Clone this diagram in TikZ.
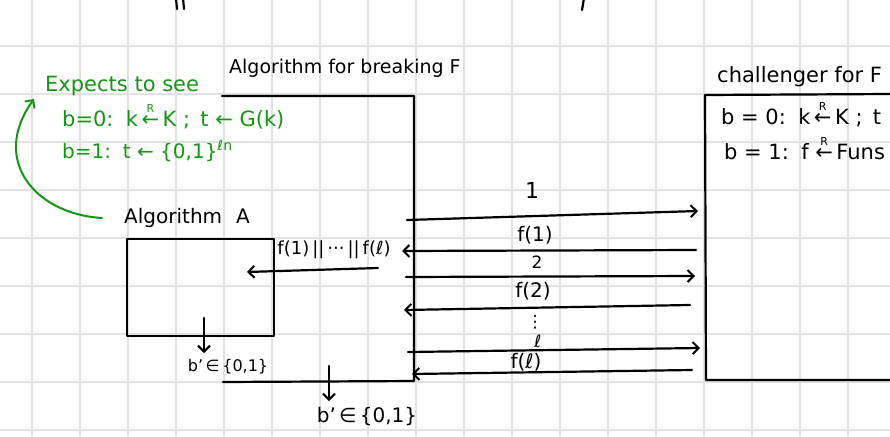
\documentclass[tikz,border=0pt]{standalone}
\usepackage{fontspec}
\setmainfont{DejaVu Sans}
\usetikzlibrary{arrows.meta}
\definecolor{inkgreen}{RGB}{22,150,22}
\definecolor{gridgray}{RGB}{225,225,225}
\newcommand\rfrom{\shortstack{\fontsize{11}{11}\selectfont R\\[-1pt]←}}
\begin{document}
\begin{tikzpicture}[x=1pt,y=-1pt,line cap=round,line join=round,
  ink/.style={line width=2.2pt,black},
  gink/.style={line width=2pt,inkgreen},
  tip/.style={-{Straight Barb[length=6pt,width=12pt,line width=2pt]}},
  gridline/.style={gridgray,line width=1.5pt},
  title/.style={inner sep=0pt,anchor=west,font=\fontsize{19}{21}\selectfont},
  gtext/.style={inner sep=0pt,anchor=west,text=inkgreen,font=\fontsize{21}{23}\selectfont},
  lbl/.style={inner sep=0pt,font=\fontsize{20}{22}\selectfont}]
\clip (0,0) rectangle (890,436);
\fill[white] (0,0) rectangle (890,436);
% grid
\foreach \x in {32,80,...,848} \draw[gridline] (\x,0) -- (\x,436);
\foreach \y in {46,94,...,430} \draw[gridline] (0,\y) -- (890,\y);
% fragments at the top edge
\coordinate (m1a) at (176,-2); \coordinate (m1b) at (177,9);
\coordinate (m2a) at (183,-2); \coordinate (m2b) at (184,9);
\coordinate (m3a) at (584,-2); \coordinate (m3b) at (582,10);
\draw[ink] (m1a) -- (m1b); \draw[ink] (m2a) -- (m2b); \draw[ink] (m3a) -- (m3b);
% big box: Algorithm for breaking F
\node[title] (tbig) at (229,68) {Algorithm for breaking F};
\coordinate (bigTL) at (222,96);
\coordinate (bigTR) at (414,96);
\coordinate (bigBR) at (414,381);
\coordinate (bigBL) at (223,382);
\draw[ink] (bigTL) -- (bigTR) -- (bigBR) -- (bigBL);
% challenger box
\node[title,font=\fontsize{21}{23}\selectfont] (tch) at (717,77) {challenger for F};
\coordinate (chTR) at (892,94);
\coordinate (chTL) at (705,95);
\coordinate (chBL) at (706,380);
\coordinate (chBR) at (892,380);
\draw[ink] (chTR) -- (chTL) -- (chBL) -- (chBR);
\node[title,font=\fontsize{21}{23}\selectfont,anchor=base west] (ch1) at (721,124) {b = 0:\, k\,\rfrom\,K ;\, t};
\node[title,font=\fontsize{21}{23}\selectfont,anchor=base west] (ch2) at (724,159) {b = 1:\, f \rfrom\,Funs};
% algorithm A
\node[title,font=\fontsize{20}{22}\selectfont] (talgA) at (124,218) {Algorithm\hspace{0.7em}A};
\node[draw,ink,inner sep=0pt,minimum width=147pt,minimum height=97pt] (boxA) at (200.5,287.5) {};
% green expectations
\node[gtext] (g1) at (45,86) {Expects to see};
\node[gtext,anchor=base west] (g2) at (62,126) {b=0:\, k\,\rfrom\,K ;\, t ← G(k)};
\node[gtext,font=\fontsize{20}{22}\selectfont,anchor=base west] (g3) at (62,158) {b=1:\, t ← \{0,1\}\textsuperscript{ℓn}};
\coordinate (gs) at (102,218);
\coordinate (ge) at (34,99);
\draw[gink,-{Straight Barb[length=6pt,width=12pt,line width=2pt]}] (gs) .. controls (35,214) and (-10,160) .. (ge);
% exchanges
\coordinate (a1s) at (407,220); \coordinate (a1e) at (698,211);
\coordinate (b1s) at (696,250); \coordinate (b1e) at (402,251);
\coordinate (a2s) at (406,277); \coordinate (a2e) at (695,276);
\coordinate (b2s) at (690,305); \coordinate (b2e) at (404,310);
\coordinate (a3s) at (408,352); \coordinate (a3e) at (700,348);
\coordinate (b3s) at (692,370); \coordinate (b3e) at (412,374);
\draw[ink,tip] (a1s) -- (a1e);
\draw[ink,tip] (b1s) -- (b1e);
\draw[ink,tip] (a2s) -- (a2e);
\draw[ink,tip] (b2s) -- (b2e);
\draw[ink,tip] (a3s) -- (a3e);
\draw[ink,tip] (b3s) -- (b3e);
\node[lbl,font=\fontsize{22}{24}\selectfont] (l1) at (532,190) {1};
\node[lbl] (lf1) at (535,235) {f(1)};
\node[lbl,font=\fontsize{17}{19}\selectfont] (l2) at (537,262) {2};
\node[lbl] (lf2) at (533,291) {f(2)};
\node[lbl,font=\fontsize{17}{18}\selectfont] (ldots) at (535,322) {⋮};
\node[lbl,font=\fontsize{17}{19}\selectfont] (ll) at (538,341) {ℓ};
\node[lbl] (lfl) at (526,362) {f(ℓ)};
% concatenation into A
\coordinate (cs) at (378,268); \coordinate (ce) at (247,272);
\draw[ink,tip] (cs) -- (ce);
\node[lbl,font=\fontsize{18}{20}\selectfont] (lcat) at (334,250) {f(1)\,||\,···\,||\,f(ℓ)};
% outputs
\coordinate (o1s) at (204,318); \coordinate (o1e) at (204,353);
\draw[ink,tip] (o1s) -- (o1e);
\node[lbl,font=\fontsize{16}{18}\selectfont] (out1) at (228,367) {b'\,∈\,\{0,1\}};
\coordinate (o2s) at (329,366); \coordinate (o2e) at (329,401);
\draw[ink,tip] (o2s) -- (o2e);
\node[lbl,font=\fontsize{20}{22}\selectfont] (out2) at (367,417) {b'\,∈\,\{0,1\}};
\end{tikzpicture}
\end{document}
